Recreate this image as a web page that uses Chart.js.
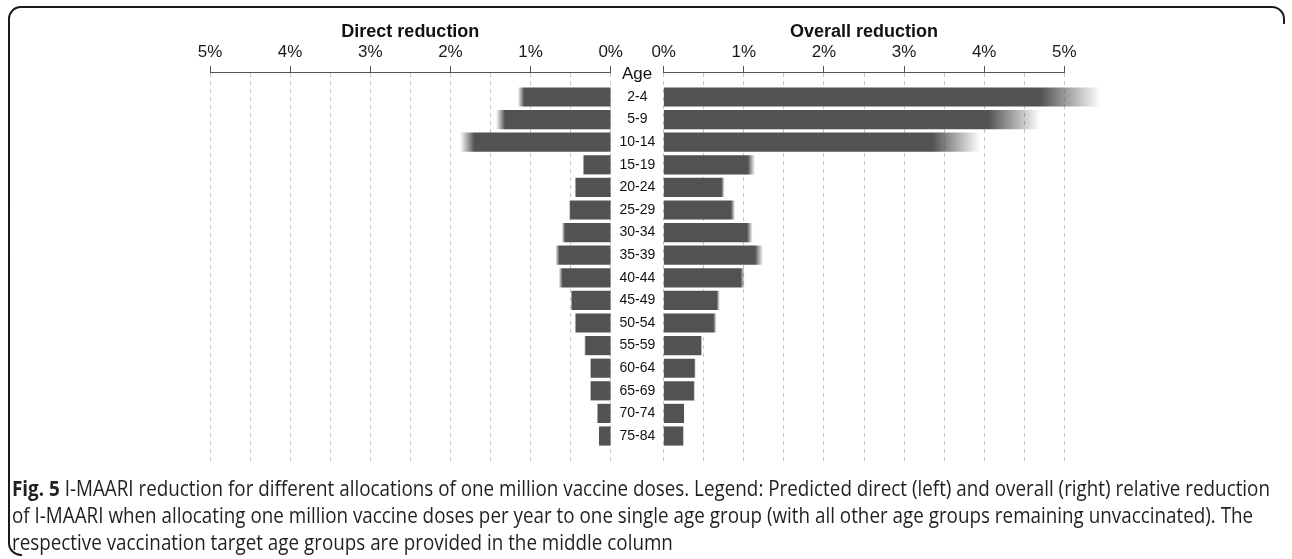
<!DOCTYPE html>
<html>
<head>
<meta charset="utf-8">
<script src="https://cdn.jsdelivr.net/npm/chart.js@4.4.1/dist/chart.umd.min.js"></script>
<style>
html,body{margin:0;padding:0;background:#fff;}
#wrap{position:relative;width:1292px;height:559px;overflow:hidden;font-family:"Liberation Sans",Arial,sans-serif;}
#wrap canvas{position:absolute;top:0;}
#cl{left:0;}
#cr{left:600px;}
#frame{position:absolute;left:0;top:0;}
#age{position:absolute;left:607px;width:60px;top:64px;text-align:center;font-size:17px;line-height:20px;color:#111;}
.cap{position:absolute;left:12px;white-space:nowrap;font-family:"Open Sans","Liberation Sans",sans-serif;font-size:21px;line-height:28px;color:#231f20;transform-origin:0 0;}
.cap b{font-weight:700;}
</style>
</head>
<body>
<div id="wrap">
<svg id="frame" width="1292" height="559">
<path d="M 22 555 A 12 12 0 0 1 9 543 L 9 20 A 12 12 0 0 1 21 7 L 1272 7 A 12 12 0 0 1 1284 19 L 1284 24" fill="none" stroke="#1a1a1a" stroke-width="2"/>
</svg>
<canvas id="cl" width="640" height="480"></canvas>
<canvas id="cr" width="692" height="480"></canvas>
<div id="age">Age</div>
<div class="cap" id="cap1" style="top:474px;"><b>Fig. 5</b> I-MAARI reduction for different allocations of one million vaccine doses. Legend: Predicted direct (left) and overall (right) relative reduction</div>
<div class="cap" id="cap2" style="top:501px;">of I-MAARI when allocating one million vaccine doses per year to one single age group (with all other age groups remaining unvaccinated). The</div>
<div class="cap" id="cap3" style="top:528px;">respective vaccination target age groups are provided in the middle column</div>
</div>
<script>
const ages = ['2-4','5-9','10-14','15-19','20-24','25-29','30-34','35-39','40-44','45-49','50-54','55-59','60-64','65-69','70-74','75-84'];
// Direct reduction (%): solid part ends at Low, fades out up to High
const directLow  = [1.08, 1.32, 1.70, 0.33, 0.43, 0.50, 0.57, 0.64, 0.60, 0.48, 0.43, 0.31, 0.24, 0.24, 0.16, 0.14];
const directHigh = [1.16, 1.43, 1.88, 0.35, 0.45, 0.52, 0.61, 0.69, 0.65, 0.50, 0.45, 0.33, 0.26, 0.26, 0.17, 0.15];
// Overall reduction (%)
const overallLow  = [4.70, 4.05, 3.35, 1.05, 0.72, 0.84, 1.04, 1.14, 0.96, 0.66, 0.62, 0.46, 0.38, 0.37, 0.25, 0.24];
const overallHigh = [5.45, 4.70, 3.95, 1.14, 0.76, 0.89, 1.11, 1.24, 1.01, 0.70, 0.66, 0.48, 0.40, 0.39, 0.26, 0.25];
const pctTicks = [0, 1, 2, 3, 4, 5];

const BAR = 'rgb(82,82,82)';
const BAR0 = 'rgba(82,82,82,0)';
const FONT = '"Liberation Sans", Arial, sans-serif';

function fadeFill(lo, hi) {
  return (c) => {
    const chart = c.chart;
    const xs = chart.scales && chart.scales.x;
    if (c.type !== 'data' || !xs || !chart.chartArea) return BAR;
    const i = c.dataIndex;
    const p0 = xs.getPixelForValue(0);
    const pl = xs.getPixelForValue(lo[i]);
    const ph = xs.getPixelForValue(hi[i]);
    if (Math.abs(ph - p0) < 1) return BAR;
    const g = chart.ctx.createLinearGradient(p0, 0, ph, 0);
    const t = Math.min(0.999, Math.max(0, (pl - p0) / (ph - p0)));
    g.addColorStop(0, BAR);
    g.addColorStop(t, BAR);
    g.addColorStop(1, BAR0);
    return g;
  };
}

function xAxis(reverse, title) {
  return {
    type: 'linear', position: 'top', reverse: reverse,
    min: pctTicks[0], max: pctTicks[pctTicks.length - 1],
    afterFit: (s) => { s.height = 72; },
    ticks: {
      stepSize: 0.5, autoSkip: false, maxRotation: 0, padding: 3.8,
      color: '#1a1a1a', font: { family: FONT, size: 17 },
      callback: (v) => (pctTicks.includes(v) ? v + '%' : '')
    },
    grid: {
      color: '#c4c4c4', lineWidth: 1, tickLength: 6, tickWidth: 1,
      tickColor: (c) => (c.tick && pctTicks.includes(c.tick.value) ? '#555' : 'rgba(0,0,0,0)'),
      tickBorderDash: []
    },
    border: { display: true, color: '#555', width: 1, dash: [4, 4] },
    title: {
      display: true, text: title, color: '#111',
      font: { family: FONT, size: 18, weight: 'bold' },
      padding: { top: 21.2, bottom: 0 }
    }
  };
}

const yMin = -1.106, yMax = 16.15;

function makeChart(id, low, high, reverse, title, pad, showAges) {
  const yAxis = {
    type: 'linear', reverse: true, min: yMin, max: yMax, display: showAges,
    position: 'left', offset: false,
    grid: { display: false, drawTicks: false }, border: { display: false },
    ticks: {
      stepSize: 1, autoSkip: false, crossAlign: 'center', padding: 8.5,
      color: '#111', font: { family: FONT, size: 14 },
      callback: (v) => {
        const r = Math.round(v);
        return (Math.abs(v - r) < 1e-6 && r >= 0 && r < ages.length) ? ages[r] : '';
      }
    }
  };
  if (showAges) yAxis.afterFit = (s) => { s.width = 53; };
  return new Chart(document.getElementById(id), {
    type: 'bar',
    data: {
      datasets: [{
        data: ages.map((a, i) => ({ x: high[i], y: i })),
        backgroundColor: fadeFill(low, high),
        borderWidth: 0,
        barThickness: 18.5,
        clip: false
      }]
    },
    options: {
      indexAxis: 'y', responsive: false, animation: false, devicePixelRatio: 1,
      events: [],
      layout: { padding: pad },
      plugins: { legend: { display: false }, tooltip: { enabled: false } },
      scales: { x: xAxis(reverse, title), y: yAxis }
    }
  });
}

makeChart('cl', directLow, directHigh, true, 'Direct reduction', { left: 210, right: 29.3, top: 0, bottom: 18 }, false);
makeChart('cr', overallLow, overallHigh, false, 'Overall reduction', { left: 10.7, right: 227.7, top: 0, bottom: 18 }, true);

// fit caption width to reference line length
const c1 = document.getElementById('cap1');
const w1 = c1.getBoundingClientRect().width;
const s = 1258 / w1;
['cap1', 'cap2', 'cap3'].forEach(id => {
  document.getElementById(id).style.transform = 'scaleX(' + s + ')';
});
</script>
</body>
</html>
